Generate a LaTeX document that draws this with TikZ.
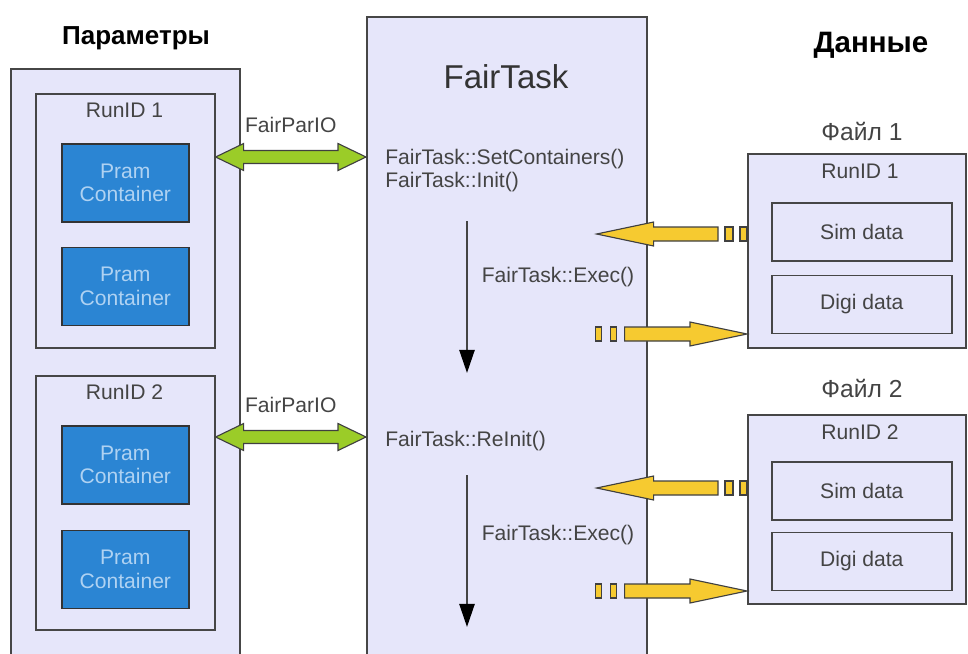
\documentclass[tikz,border=0pt]{standalone}
\usepackage{fontspec}
\setmainfont{Liberation Sans}
\usetikzlibrary{positioning,arrows.meta,calc}
\definecolor{BoxFill}{RGB}{230,230,250}
\definecolor{BoxLine}{RGB}{70,70,70}
\definecolor{TxtGrey}{RGB}{68,68,68}
\definecolor{PramBlue}{RGB}{43,133,211}
\definecolor{PramText}{RGB}{175,210,242}
\definecolor{ParGreen}{RGB}{155,204,40}
\definecolor{DataYellow}{RGB}{246,202,48}

\begin{document}
\begin{tikzpicture}[x=0.025cm,y=-0.025cm,
frame/.style={rectangle,draw=BoxLine,fill=BoxFill,line width=1.1pt,anchor=north west},
pram/.style={rectangle,draw=black!80,fill=PramBlue,line width=1.1pt,minimum width=3.175cm,minimum height=1.95cm,align=center,text=PramText,font=\fontsize{15}{16.5}\selectfont},
data/.style={rectangle,draw=BoxLine,fill=BoxFill,line width=1.1pt,minimum width=4.5cm,minimum height=1.45cm,text=TxtGrey,font=\fontsize{15}{18}\selectfont},
lbl/.style={text=TxtGrey,font=\fontsize{15}{16.3}\selectfont,inner sep=0pt},
title/.style={font=\bfseries\fontsize{18.5}{22}\selectfont,inner sep=0pt},
flow/.style={draw=TxtGrey,line width=1.6pt,-{Triangle[length=0.58cm,width=0.38cm,color=black]}},
parlink/.style={draw=black!75,fill=ParGreen,line width=0.8pt},
datalink/.style={draw=black!75,fill=DataYellow,line width=0.8pt}
]
\useasboundingbox (0,0) rectangle (968,653);
\clip (0,0) rectangle (968,653);
% parameters
\node[title] (partitle) at (136,38) {Параметры};
\node[frame,minimum width=5.725cm,minimum height=16cm] (par) at (10,68) {};
\node[frame,minimum width=4.475cm,minimum height=6.35cm] (rid1) at (35,93) {};
\node[lbl] (rid1t) at (124.5,110) {RunID 1};
\node[pram,below=1.25cm of rid1.north] (pc1) {Pram\\Container};
\node[pram,below=0.6cm of pc1] (pc2) {Pram\\Container};
\node[frame,minimum width=4.475cm,minimum height=6.35cm] (rid2) at (35,375) {};
\node[lbl] (rid2t) at (124.5,392) {RunID 2};
\node[pram,below=1.25cm of rid2.north] (pc3) {Pram\\Container};
\node[pram,below=0.625cm of pc3] (pc4) {Pram\\Container};
% task
\node[frame,minimum width=7cm,minimum height=17.2cm] (ft) at (366,16) {};
\node[text=black!80,font=\fontsize{23.5}{27}\selectfont] (fttitle) at (506,77) {FairTask};
\node[lbl,anchor=north west,align=left] (init) at (385,149) {FairTask::SetContainers()\\FairTask::Init()};
\node[lbl,anchor=west] (reinit) at (385,441) {FairTask::ReInit()};
\coordinate (e1s) at (467,221);
\coordinate (e1e) at (467,373);
\coordinate (e2s) at (467,475);
\coordinate (e2e) at (467,627);
\draw[flow] (e1s) -- (e1e);
\draw[flow] (e2s) -- (e2e);
\node[lbl] (exec1) at (558,277) {FairTask::Exec()};
\node[lbl] (exec2) at (558,535) {FairTask::Exec()};
% data files
\node[title,font=\bfseries\fontsize{21}{24}\selectfont] (datatitle) at (871,45) {Данные};
\node[lbl,font=\fontsize{17.5}{20}\selectfont] (f1t) at (862,131) {Файл 1};
\node[frame,minimum width=5.45cm,minimum height=4.85cm] (f1) at (747,153) {};
\node[lbl] (f1r) at (860,171) {RunID 1};
\node[data,below=1.225cm of f1.north,xshift=0.125cm] (sd1) {Sim data};
\node[data,below=0.325cm of sd1] (dd1) {Digi data};
\node[lbl,font=\fontsize{17.5}{20}\selectfont] (f2t) at (862,388) {Файл 2};
\node[frame,minimum width=5.45cm,minimum height=4.725cm] (f2) at (747,414) {};
\node[lbl] (f2r) at (860,432) {RunID 2};
\node[data,below=1.175cm of f2.north,xshift=0.125cm] (sd2) {Sim data};
\node[data,below=0.275cm of sd2] (dd2) {Digi data};
% FairParIO links
\foreach \r/\y in {rid1/157,rid2/437} {
  \coordinate (gl) at (\r.east |- 0,\y);
  \coordinate (gr) at (ft.west |- 0,\y);
  \draw[parlink] (gl) -- ++(28,-13.5) -- ++(0,7) -- ($(gr)+(-28,-6.5)$) -- ++(0,-7) -- (gr)
    -- ++(-28,13.5) -- ++(0,-7) -- ($(gl)+(28,6.5)$) -- ++(0,7) -- cycle;
  \node[lbl] at ($(gl)!0.5!(gr)+(0,-32)$) {FairParIO};
}
% data read
\foreach \f/\y in {f1/234,f2/488} {
  \coordinate (ya) at (\f.west |- 0,\y);
  \coordinate (yb) at ($(ft.east |- 0,\y)+(-51,0)$);
  \draw[datalink] ($(ya)+(-7,-7)$) rectangle ($(ya)+(0,7)$);
  \draw[datalink] ($(ya)+(-22,-7)$) rectangle ($(ya)+(-14,7)$);
  \draw[datalink] ($(ya)+(-29,-7)$) -- ($(yb)+(57,-7)$) -- ($(yb)+(57,-12)$) -- (yb)
    -- ($(yb)+(57,12)$) -- ($(yb)+(57,7)$) -- ($(ya)+(-29,7)$) -- cycle;
}
% data write
\foreach \f/\y in {f1/334,f2/591} {
  \coordinate (ya) at ($(ft.east |- 0,\y)+(-52,0)$);
  \coordinate (yb) at (\f.west |- 0,\y);
  \draw[datalink] ($(ya)+(0,-7)$) rectangle ($(ya)+(6,7)$);
  \draw[datalink] ($(ya)+(15,-7)$) rectangle ($(ya)+(21,7)$);
  \draw[datalink] ($(ya)+(29,-7)$) -- ($(yb)+(-57,-7)$) -- ($(yb)+(-57,-12)$) -- (yb)
    -- ($(yb)+(-57,12)$) -- ($(yb)+(-57,7)$) -- ($(ya)+(29,7)$) -- cycle;
}
\end{tikzpicture}
\end{document}
